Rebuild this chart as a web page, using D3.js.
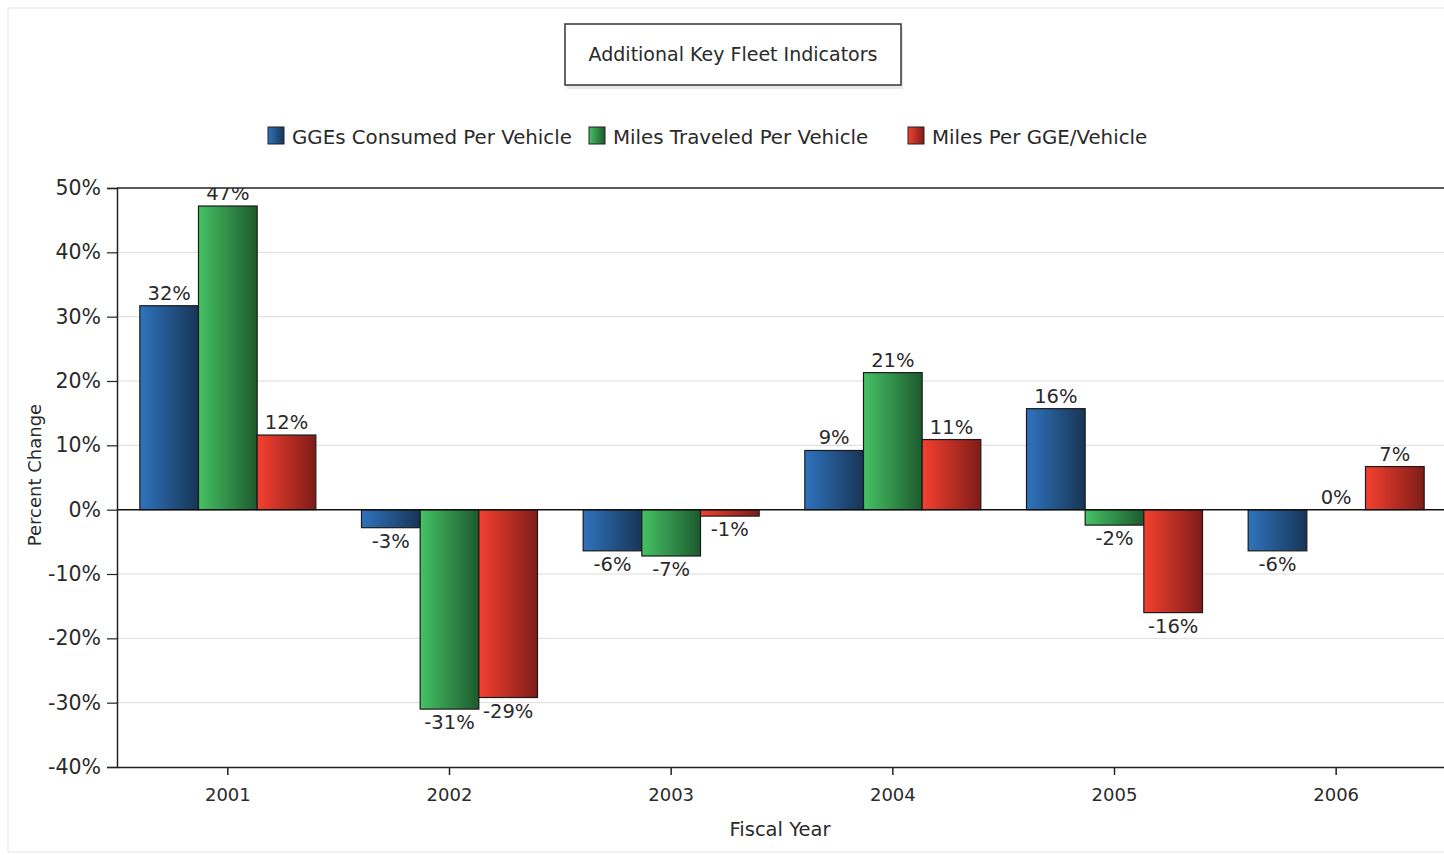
<!DOCTYPE html>
<html><head><meta charset="utf-8">
<script src="https://cdn.jsdelivr.net/npm/d3@7"></script>
<style>body{margin:0;background:#fff;} svg{display:block;font-family:"DejaVu Sans",Arial,sans-serif;}</style>
</head><body><svg id="c" width="1444" height="855"></svg>
<script>
const years = ["2001","2002","2003","2004","2005","2006"];
const seriesNames = ["GGEs Consumed Per Vehicle","Miles Traveled Per Vehicle","Miles Per GGE/Vehicle"];
const ggeValues = [31.7, -2.8, -6.4, 9.2, 15.7, -6.4];
const milesValues = [47.2, -31.0, -7.2, 21.3, -2.4, 0];
const mpgValues = [11.6, -29.2, -1.0, 10.9, -16.0, 6.7];
const ggeLabels = ["32%","-3%","-6%","9%","16%","-6%"];
const milesLabels = ["47%","-31%","-7%","21%","-2%","0%"];
const mpgLabels = ["12%","-29%","-1%","11%","-16%","7%"];
const yTicks = [50,40,30,20,10,0,-10,-20,-30,-40];

const colors = [["#2f73bd","#173556"],["#45c264","#1d5a2e"],["#f5402f","#7e1c18"]];
const FONT = "DejaVu Sans, Arial, sans-serif";
const TXT = "#2a2a2a";
const svg = d3.select("#c");
const defs = svg.append("defs");
colors.forEach((c,i)=>{
  const g = defs.append("linearGradient").attr("id","g"+i).attr("x1","0").attr("x2","1").attr("y1","0").attr("y2","0");
  g.append("stop").attr("offset","0").attr("stop-color",c[0]);
  g.append("stop").attr("offset","1").attr("stop-color",c[1]);
});

// outer faint border
svg.append("rect").attr("x",8).attr("y",8).attr("width",1440).attr("height",844).attr("fill","none").attr("stroke","#e4e4e4");

const L=117, R=1447, T=188, B=767;
const x0 = d3.scaleBand().domain(years).range([L,R]).paddingInner(0.206).paddingOuter(0.103);
const x1 = d3.scaleBand().domain([0,1,2]).range([0,x0.bandwidth()]);
const y = d3.scaleLinear().domain([-40,50]).range([B,T]);

defs.append("clipPath").attr("id","pc").append("rect").attr("x",L).attr("y",T).attr("width",R-L).attr("height",B-T);

// grid
svg.append("g").selectAll("line").data(yTicks.filter(d=>d!==0 && d!==50 && d!==-40)).join("line")
  .attr("x1",L).attr("x2",1444).attr("y1",d=>y(d)).attr("y2",d=>y(d)).attr("stroke","#dcdcdc");

// title
svg.append("rect").attr("x",567).attr("y",27).attr("width",336).attr("height",62).attr("fill","#e8e8e8");
svg.append("rect").attr("x",565).attr("y",24).attr("width",336).attr("height",61).attr("fill","#fff").attr("stroke","#333").attr("stroke-width",1.5);
svg.append("text").attr("x",733).attr("y",61).attr("text-anchor","middle").attr("font-size",19).attr("fill",TXT).text("Additional Key Fleet Indicators");

// legend
const legX = [268,589,908];
seriesNames.forEach((n,i)=>{
  svg.append("rect").attr("x",legX[i]).attr("y",127).attr("width",16).attr("height",17).attr("fill","url(#g"+i+")").attr("stroke","#222");
  svg.append("text").attr("x",legX[i]+24).attr("y",144).attr("font-size",19.8).attr("fill",TXT).text(n);
});

// bars
const vals=[ggeValues,milesValues,mpgValues];
const labs=[ggeLabels,milesLabels,mpgLabels];
const gBars = svg.append("g");
const gLabs = svg.append("g").attr("clip-path","url(#pc)");
vals.forEach((arr,i)=>{
  gBars.selectAll(null).data(arr).join("rect")
    .attr("x",(d,j)=>x0(years[j])+x1(i))
    .attr("width",x1.bandwidth())
    .attr("y",d=>y(Math.max(0,d)))
    .attr("height",d=>Math.abs(y(d)-y(0)))
    .attr("fill","url(#g"+i+")").attr("stroke","#1a1a1a").attr("stroke-width",1.2);
  gLabs.selectAll(null).data(arr).join("text")
    .attr("x",(d,j)=>x0(years[j])+x1(i)+x1.bandwidth()/2)
    .attr("y",d=> d>=0 ? y(d)-6 : y(d)+20)
    .attr("text-anchor","middle").attr("font-size",19.5).attr("fill",TXT)
    .text((d,j)=>labs[i][j]);
});

// zero line & frame
svg.append("line").attr("x1",L).attr("x2",1444).attr("y1",y(0)).attr("y2",y(0)).attr("stroke","#111").attr("stroke-width",1.5);
svg.append("line").attr("x1",L).attr("x2",1444).attr("y1",T).attr("y2",T).attr("stroke","#222").attr("stroke-width",1.5);

// axes
const ya = svg.append("g").attr("transform",`translate(${L},0)`)
  .call(d3.axisLeft(y).tickValues(yTicks).tickFormat(d=>d+"%").tickSize(10).tickPadding(6));
ya.select(".domain").attr("stroke","#222").attr("stroke-width",1.5);
ya.selectAll("line").attr("stroke","#222").attr("stroke-width",1.2);
ya.selectAll("text").attr("font-size",20.5).attr("fill",TXT).attr("font-family",FONT);

const xa = svg.append("g").attr("transform",`translate(0,${B})`)
  .call(d3.axisBottom(x0).tickSize(8).tickPadding(13).tickSizeOuter(0));
xa.select(".domain").attr("stroke","#222").attr("stroke-width",1.5);
xa.selectAll("line").attr("stroke","#222").attr("stroke-width",1.5);
xa.selectAll("text").attr("font-size",18).attr("fill",TXT).attr("font-family",FONT);

svg.append("text").attr("x",780).attr("y",836).attr("text-anchor","middle").attr("font-size",19.5).attr("fill",TXT).text("Fiscal Year");
svg.append("text").attr("transform","translate(41,475) rotate(-90)").attr("text-anchor","middle").attr("font-size",18).attr("fill",TXT).text("Percent Change");
</script></body></html>
